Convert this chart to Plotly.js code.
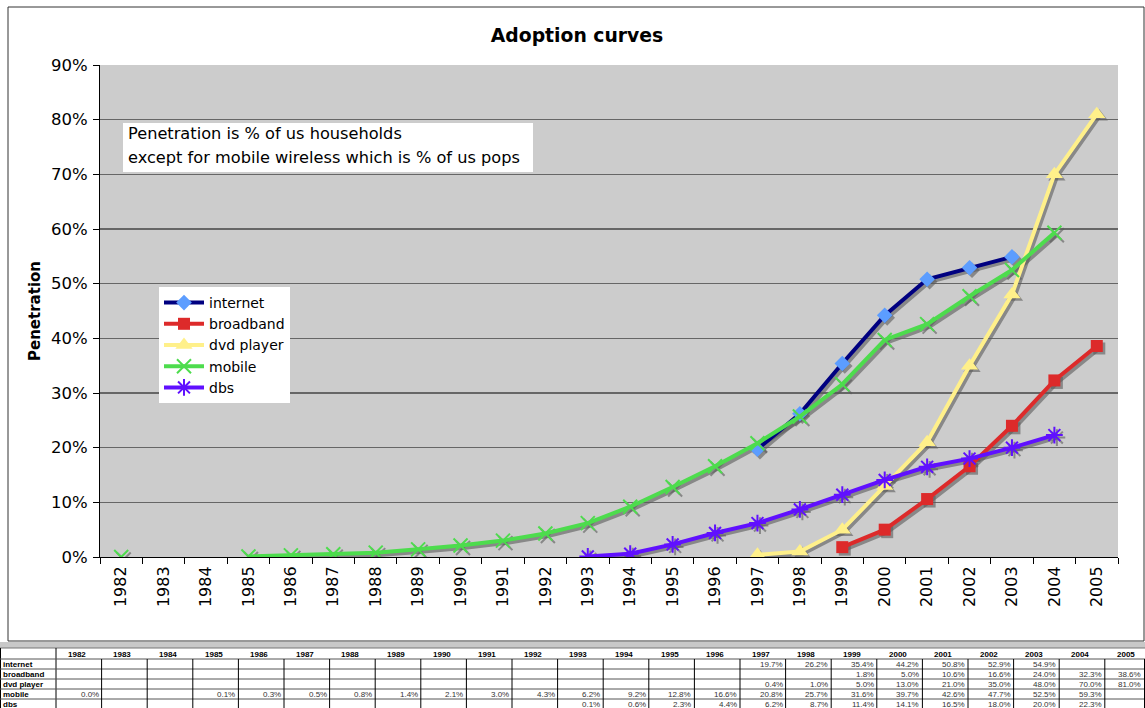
<!DOCTYPE html>
<html>
<head>
<meta charset="utf-8">
<script src="https://cdn.plot.ly/plotly-3.0.1.min.js"></script>
<style>
  html, body { margin: 0; padding: 0; background: #ffffff; }
  #chart { width: 1145px; height: 708px; }
</style>
</head>
<body>
<div id="chart"></div>
<script>
// Years on the category axis
const years = ['1982','1983','1984','1985','1986','1987','1988','1989','1990','1991','1992','1993',
               '1994','1995','1996','1997','1998','1999','2000','2001','2002','2003','2004','2005'];

// Penetration, in percent (null = no figure for that year)
const internet  = [null,null,null,null,null,null,null,null,null,null,null,null,
                   null,null,null,19.7,26.2,35.4,44.2,50.8,52.9,54.9,null,null];
const broadband = [null,null,null,null,null,null,null,null,null,null,null,null,
                   null,null,null,null,null,1.8,5.0,10.6,16.6,24.0,32.3,38.6];
const dvdPlayer = [null,null,null,null,null,null,null,null,null,null,null,null,
                   null,null,null,0.4,1.0,5.0,13.0,21.0,35.0,48.0,70.0,81.0];
const mobile    = [0.0,null,null,0.1,0.3,0.5,0.8,1.4,2.1,3.0,4.3,6.2,
                   9.2,12.8,16.6,20.8,25.7,31.6,39.7,42.6,47.7,52.5,59.3,null];
const dbs       = [null,null,null,null,null,null,null,null,null,null,null,0.1,
                   0.6,2.3,4.4,6.2,8.7,11.4,14.1,16.5,18.0,20.0,22.3,null];

const seriesNames = ['internet','broadband','dvd player','mobile','dbs'];
const seriesData  = [internet, broadband, dvdPlayer, mobile, dbs];

const noteLines = ['Penetration is % of us households',
                   'except for mobile wireless which is % of us pops'];

// Styling for each series
const styles = [
  {line: '#000080', marker: {symbol: 'diamond', size: 12, color: '#5c9dff'}},
  {line: '#dd2a2a', marker: {symbol: 'square', size: 12, color: '#dd2a2a'}},
  {line: '#fff08a', marker: {symbol: 'triangle-up', size: 15, color: '#fff08a'}},
  {line: '#4ddc4d', marker: {symbol: 'x-thin-open', size: 14, color: '#4ddc4d', line: {color: '#4ddc4d', width: 2}}},
  {line: '#6010ff', marker: {symbol: 'asterisk-open', size: 14, color: '#6010ff', line: {color: '#6010ff', width: 2}}}
];

const W = 1145, H = 708;
const plotL = 100, plotR = 1118, plotT = 65, plotB = 557;
const yMax = 90;
const xDomain = [plotL / W, plotR / W];
const yDomain = [1 - plotB / H, 1 - plotT / H];
const px = v => v / W;          // pixel x -> paper x
const py = v => 1 - v / H;      // pixel y -> paper y

// Drop shadow offset in pixels, converted to axis units
const shadowPx = 2.5;
const catPx = (plotR - plotL) / years.length;
const dx = shadowPx / catPx;
const dy = shadowPx / ((plotB - plotT) / yMax);

const traces = [];
const shadowColor = 'rgba(90,90,90,0.6)';

// Empty trace that anchors the main axes (ticks, grid, labels)
traces.push({
  type: 'scatter', mode: 'lines', x: years, y: years.map(() => null),
  xaxis: 'x', yaxis: 'y', showlegend: false, hoverinfo: 'skip'
});

// Shadows (on an offset overlay axis beneath the series)
seriesData.forEach((vals, i) => {
  const m = JSON.parse(JSON.stringify(styles[i].marker));
  m.color = shadowColor;
  if (m.line) m.line.color = shadowColor;
  traces.push({
    type: 'scatter', mode: 'lines+markers', x: years, y: vals,
    xaxis: 'x2', yaxis: 'y2', showlegend: false, hoverinfo: 'skip',
    line: {color: shadowColor, width: 4},
    marker: m
  });
});

// Series
seriesData.forEach((vals, i) => {
  const st = styles[i];
  traces.push({
    type: 'scatter', mode: 'lines+markers', name: seriesNames[i], x: years, y: vals,
    xaxis: 'x3', yaxis: 'y3',
    line: {color: st.line, width: 4},
    marker: st.marker
  });
});

const font = 'DejaVu Sans, Verdana, sans-serif';
const tableFont = 'Liberation Sans, Arial, sans-serif';

const catAxis = {type: 'category', categoryorder: 'array', categoryarray: years};

const shapes = [
  // chart frame
  {type: 'rect', xref: 'paper', yref: 'paper', x0: px(8), x1: px(1144), y0: py(641), y1: py(7),
   line: {color: '#333333', width: 1}, fillcolor: 'rgba(0,0,0,0)', layer: 'below'},
  // band between frame and table
  {type: 'rect', xref: 'paper', yref: 'paper', x0: 0, x1: 1, y0: py(648), y1: py(642),
   line: {width: 0}, fillcolor: '#c8c8c8', layer: 'below'},
  // note box
  {type: 'rect', xref: 'paper', yref: 'paper', x0: px(123), x1: px(533), y0: py(172), y1: py(123),
   line: {width: 0}, fillcolor: '#ffffff', layer: 'above'}
];

const annotations = [
  {text: noteLines[0], xref: 'paper', yref: 'paper', x: px(126), y: py(134),
   xanchor: 'left', yanchor: 'middle', showarrow: false, align: 'left',
   font: {family: font, size: 16.2, color: '#000000'}},
  {text: noteLines[1], xref: 'paper', yref: 'paper', x: px(126), y: py(157),
   xanchor: 'left', yanchor: 'middle', showarrow: false, align: 'left',
   font: {family: font, size: 16.2, color: '#000000'}},
  {text: '<b>Penetration</b>', xref: 'paper', yref: 'paper', x: px(35), y: py(311),
   xanchor: 'center', yanchor: 'middle', showarrow: false, textangle: -90,
   font: {family: font, size: 15, color: '#000000'}}
];

// Data table under the chart: grid lines and cell texts
const firstColW = 56, colW = 45.6;
const headerTop = 648, headerBottom = 659, rowH = 10;
const colLeft = j => firstColW + j * colW;
const tableBottom = headerBottom + rowH * seriesNames.length;
const line = (x0, y0, x1, y1, color) => ({
  type: 'line', xref: 'paper', yref: 'paper', x0: px(x0), y0: py(y0), x1: px(x1), y1: py(y1),
  line: {color: color, width: 1}
});

shapes.push(line(0, headerTop, W, headerTop, '#777777'));
shapes.push(line(0.5, headerTop, 0.5, tableBottom, '#000000'));
shapes.push(line(firstColW, headerTop, firstColW, tableBottom, '#000000'));
for (let r = 0; r <= seriesNames.length; r++) {
  const yy = headerBottom + r * rowH;
  shapes.push(line(0, yy, W, yy, '#555555'));
}
for (let j = 1; j <= years.length; j++) {
  shapes.push(line(Math.min(colLeft(j), W - 0.5), headerBottom, Math.min(colLeft(j), W - 0.5), tableBottom, '#000000'));
}

years.forEach((y, j) => {
  annotations.push({
    text: '<b>' + y + '</b>', xref: 'paper', yref: 'paper',
    x: px(colLeft(j) + colW / 2 - 2), y: py((headerTop + headerBottom) / 2 + 0.5),
    xanchor: 'center', yanchor: 'middle', showarrow: false, borderpad: 0,
    font: {family: tableFont, size: 8, color: '#000000'}
  });
});

const fmt = v => v.toFixed(1) + '%';
seriesNames.forEach((name, r) => {
  const yc = headerBottom + r * rowH + rowH / 2;
  annotations.push({
    text: '<b>' + name + '</b>', xref: 'paper', yref: 'paper',
    x: px(2), y: py(yc), xanchor: 'left', yanchor: 'middle', showarrow: false, borderpad: 0,
    font: {family: tableFont, size: 8, color: '#000000'}
  });
  seriesData[r].forEach((v, j) => {
    if (v === null) return;
    annotations.push({
      text: fmt(v), xref: 'paper', yref: 'paper',
      x: px(Math.min(colLeft(j + 1), W - 1) - 2), y: py(yc), xanchor: 'right', yanchor: 'middle',
      showarrow: false, borderpad: 0,
      font: {family: tableFont, size: 8, color: '#333333'}
    });
  });
});

const layout = {
  width: W, height: H,
  margin: {l: 0, r: 0, t: 0, b: 0, pad: 0},
  paper_bgcolor: '#ffffff',
  plot_bgcolor: '#cccccc',
  font: {family: font, color: '#000000'},
  showlegend: true,
  hovermode: false,
  title: {
    text: '<b>Adoption curves</b>',
    x: px(577), xanchor: 'center', xref: 'paper',
    y: py(35), yanchor: 'middle', yref: 'paper',
    font: {family: font, size: 18.8, color: '#000000'}
  },
  xaxis: Object.assign({}, catAxis, {
    domain: xDomain, range: [-0.5, years.length - 0.5],
    showline: true, linecolor: '#000000', linewidth: 1,
    ticks: 'outside', tickson: 'boundaries', ticklen: 6, tickcolor: '#000000',
    ticklabelstandoff: 2,
    tickangle: -90, tickfont: {family: font, size: 16, color: '#000000'},
    showgrid: false, zeroline: false, fixedrange: true
  }),
  yaxis: {
    type: 'linear',
    domain: yDomain, range: [0, yMax], dtick: 10, ticksuffix: '%',
    showline: true, linecolor: '#000000', linewidth: 1,
    ticks: 'outside', ticklen: 6, tickcolor: '#000000',
    ticklabelstandoff: 2,
    tickfont: {family: font, size: 16.5, color: '#000000'},
    showgrid: true, gridcolor: '#666666', gridwidth: 1.6,
    zeroline: false, fixedrange: true
  },
  xaxis2: Object.assign({}, catAxis, {
    overlaying: 'x', domain: xDomain, range: [-0.5 - dx, years.length - 0.5 - dx],
    visible: false, fixedrange: true
  }),
  yaxis2: {
    type: 'linear', overlaying: 'y', domain: yDomain, range: [dy, yMax + dy],
    visible: false, fixedrange: true
  },
  xaxis3: Object.assign({}, catAxis, {
    overlaying: 'x', domain: xDomain, range: [-0.5, years.length - 0.5],
    visible: false, fixedrange: true
  }),
  yaxis3: {
    type: 'linear', overlaying: 'y', domain: yDomain, range: [0, yMax],
    visible: false, fixedrange: true
  },
  legend: {
    x: px(159), xanchor: 'left', y: py(287), yanchor: 'top',
    bgcolor: '#ffffff', borderwidth: 0,
    font: {family: font, size: 14, color: '#000000'},
    itemwidth: 40, tracegroupgap: 0, traceorder: 'normal'
  },
  shapes: shapes,
  annotations: annotations
};

Plotly.newPlot('chart', traces, layout, {displayModeBar: false, staticPlot: true});
</script>
</body>
</html>
